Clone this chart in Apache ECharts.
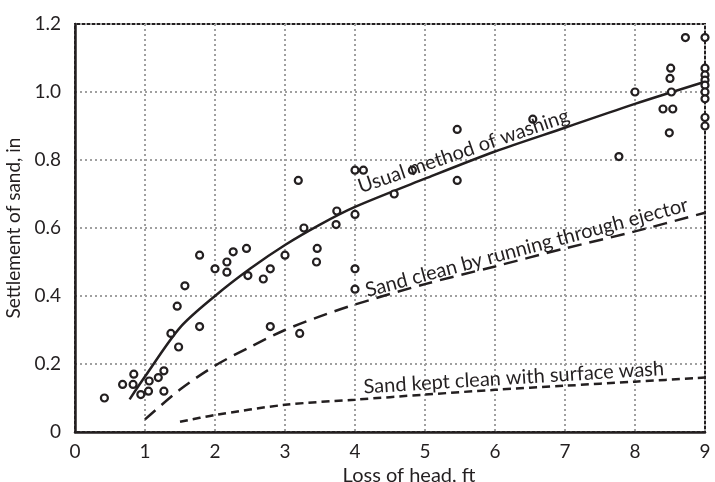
<!DOCTYPE html>
<html>
<head>
<meta charset="utf-8">
<script src="https://cdn.jsdelivr.net/npm/echarts@6/dist/echarts.min.js"></script>
<style>
  html, body { margin: 0; padding: 0; background: #fff; }
  #chart { width: 715px; height: 482px; }
</style>
</head>
<body>
<div id="chart"></div>
<script>
// observed settlement vs loss of head
const obsX = [0.42, 0.68, 0.84, 0.83, 0.94, 1.05, 1.06, 1.19, 1.27, 1.27, 1.37, 1.48, 1.46, 1.57, 1.78, 1.78,
  2.0, 2.17, 2.17, 2.26, 2.45, 2.47, 2.69, 2.79, 3.0, 2.79, 3.21, 3.19, 3.27, 3.46, 3.45, 3.74, 3.73,
  4.0, 4.12, 4.0, 4.0, 4.0, 4.82, 4.56, 5.46, 5.46, 6.54, 7.77, 8.0, 8.49, 8.40, 8.54, 8.52, 8.5, 8.51, 8.72,
  9, 9, 9, 9, 9, 9, 9, 9, 9];
const obsY = [0.10, 0.14, 0.17, 0.14, 0.11, 0.12, 0.15, 0.16, 0.18, 0.12, 0.29, 0.25, 0.37, 0.43, 0.31, 0.52,
  0.48, 0.50, 0.47, 0.53, 0.54, 0.46, 0.45, 0.48, 0.52, 0.31, 0.29, 0.74, 0.60, 0.54, 0.50, 0.65, 0.61,
  0.77, 0.77, 0.64, 0.48, 0.42, 0.77, 0.70, 0.89, 0.74, 0.92, 0.81, 1.0, 0.88, 0.95, 0.95, 1.0, 1.04, 1.07, 1.16,
  1.16, 1.07, 1.05, 1.035, 1.02, 1.0, 0.98, 0.925, 0.90];

// fitted curves
const usualX = [0.78, 1.0, 1.5, 2.0, 2.5, 3.0, 3.5, 4.0, 5.0, 6.0, 7.0, 8.0, 9.0];
const usualY = [0.096, 0.163, 0.307, 0.40, 0.48, 0.55, 0.61, 0.662, 0.745, 0.825, 0.895, 0.965, 1.03];
const ejectorX = [1.0, 1.5, 2.0, 2.5, 3.0, 3.5, 4.0, 5.0, 6.0, 7.0, 8.0, 9.0];
const ejectorY = [0.037, 0.125, 0.195, 0.25, 0.30, 0.34, 0.375, 0.435, 0.487, 0.54, 0.59, 0.645];
const surfaceX = [1.5, 2.0, 3.0, 4.0, 5.0, 6.0, 7.0, 8.0, 9.0];
const surfaceY = [0.03, 0.05, 0.08, 0.095, 0.11, 0.124, 0.136, 0.148, 0.16];

// curve captions: text, anchor x, anchor y, angle
const captionText = ['Usual method of washing', 'Sand clean by running through ejector', 'Sand kept clean with surface wash'];
const captionX = [4.1, 4.19, 4.13];
const captionY = [0.692, 0.387, 0.103];
const captionAngle = [19, 15, 3.5];

const xTicks = ['0', '1', '2', '3', '4', '5', '6', '7', '8', '9'];
const yTicks = ['0', '0.2', '0.4', '0.6', '0.8', '1.0', '1.2'];

const ink = '#231f20';
const font = 'Lato';
const zip = (a, b) => a.map((v, i) => [v, b[i]]);

const chart = echarts.init(document.getElementById('chart'));
chart.setOption({
  animation: false,
  grid: {
    left: 75, right: 10, top: 24, bottom: 50,
    outerBoundsMode: 'none', containLabel: false,
    show: true, borderColor: ink, borderWidth: 2
  },
  xAxis: {
    type: 'value', min: 0, max: 9, interval: 1,
    name: 'Loss of head, ft', nameLocation: 'middle', nameGap: 28,
    nameTextStyle: { color: ink, fontSize: 20, fontFamily: font, padding: [0, 0, 0, 38] },
    axisLine: { lineStyle: { color: ink, width: 2.5 } },
    axisTick: { show: false },
    axisLabel: { color: ink, fontSize: 19, fontFamily: font, margin: 10,
      formatter: v => xTicks[Math.round(v)] },
    splitLine: { lineStyle: { color: '#a0a0a0', width: 2, type: [2, 3] } }
  },
  yAxis: {
    type: 'value', min: 0, max: 1.2, interval: 0.2,
    name: 'Settlement of sand, in', nameLocation: 'middle', nameGap: 47,
    nameTextStyle: { color: ink, fontSize: 19, fontFamily: font },
    axisLine: { lineStyle: { color: ink, width: 2.5 } },
    axisTick: { show: false },
    axisLabel: { color: ink, fontSize: 19, fontFamily: font, margin: 14,
      formatter: v => yTicks[Math.round(v / 0.2)] },
    splitLine: { lineStyle: { color: '#a0a0a0', width: 2, type: [2, 3] } }
  },
  series: [
    {
      type: 'line', data: zip(usualX, usualY), smooth: 0.3,
      symbol: 'none', lineStyle: { color: ink, width: 2.5 }, z: 3
    },
    {
      type: 'line', data: zip(ejectorX, ejectorY), smooth: 0.3,
      symbol: 'none', lineStyle: { color: ink, width: 2.5, type: [14, 8] }, z: 3
    },
    {
      type: 'line', data: zip(surfaceX, surfaceY), smooth: 0.3,
      symbol: 'none', lineStyle: { color: ink, width: 2.5, type: [8, 5] }, z: 3
    },
    {
      type: 'scatter', data: zip(obsX, obsY), symbol: 'circle', symbolSize: 7,
      itemStyle: { color: '#fff', borderColor: ink, borderWidth: 2.2, opacity: 1 }, z: 4
    },
    {
      type: 'scatter', symbolSize: 0, silent: true, z: 5,
      itemStyle: { opacity: 1 },
      data: captionText.map((t, i) => ({
        value: [captionX[i], captionY[i]],
        label: { show: true, formatter: t, rotate: captionAngle[i] }
      })),
      label: { position: [0, 0], align: 'left', verticalAlign: 'bottom',
        color: ink, fontSize: 20, fontFamily: font }
    }
  ]
});
</script>
</body>
</html>
